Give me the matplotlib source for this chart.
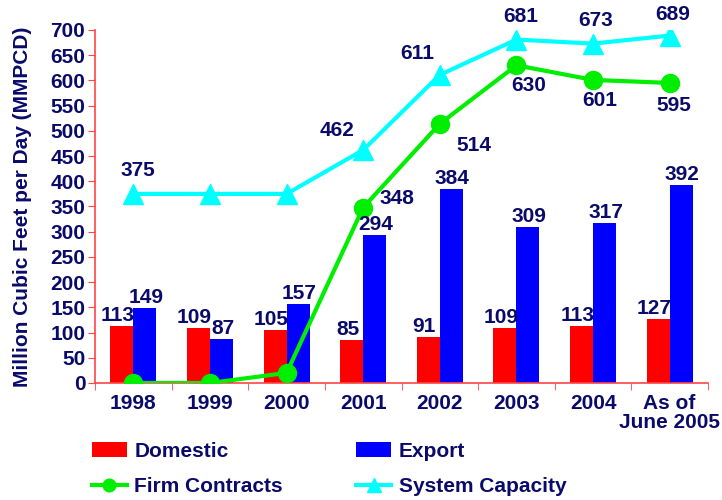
import matplotlib.pyplot as plt
import numpy as np

years = ["1998", "1999", "2000", "2001", "2002", "2003", "2004", "As of\nJune 2005"]
domestic = [113, 109, 105, 85, 91, 109, 113, 127]
export = [149, 87, 157, 294, 384, 309, 317, 392]
firm = [0, 0, 20, 348, 514, 630, 601, 595]
capacity = [375, 375, 375, 462, 611, 681, 673, 689]

navy = "#0a0a6b"
plt.rcParams["font.family"] = ["Liberation Sans", "DejaVu Sans"]
plt.rcParams["font.weight"] = "bold"
fs = 15

fig = plt.figure(figsize=(7.22, 5), dpi=100)
ax = fig.add_axes([0.1316, 0.234, 0.849, 0.706])

x = np.arange(len(years))
w = 0.3
b1 = ax.bar(x - w / 2, domestic, w, color="#ff0000", label="Domestic", zorder=2)
b2 = ax.bar(x + w / 2, export, w, color="#0000ff", label="Export", zorder=2)
l1, = ax.plot(x, firm, color="#00ee00", lw=3, marker="o", ms=13, label="Firm Contracts", zorder=3)
l2, = ax.plot(x, capacity, color="#00ffff", lw=3, marker="^", ms=15, label="System Capacity", zorder=3)

lab = dict(color=navy, fontsize=fs, fontweight="bold", textcoords="offset pixels")
for i in range(len(x)):
    ax.annotate(str(domestic[i]), (x[i] - w / 2, domestic[i]), xytext=(-4, 1),
                ha="center", va="bottom", **lab)
    ax.annotate(str(export[i]), (x[i] + w / 2, export[i]), xytext=(1, 1),
                ha="center", va="bottom", **lab)

# system capacity labels
cap_off = [(5, 14), None, None, (-26, 10), (-23, 12), (4, 14), (3, 14), (3, 12)]
for i, off in enumerate(cap_off):
    if off:
        ax.annotate(str(capacity[i]), (x[i], capacity[i]), xytext=off,
                    ha="center", va="bottom", **lab)

# firm contract labels
firm_off = [None, None, None, (34, 0), (34, -12), (12, -11), (7, -11), (4, -13)]
for i, off in enumerate(firm_off):
    if off:
        ax.annotate(str(firm[i]), (x[i], firm[i]), xytext=off,
                    ha="center", va="top" if off[1] < 0 else "bottom", **lab)

ax.set_xlim(-0.5, len(years) - 0.5)
ax.set_ylim(0, 700)
ax.set_yticks(np.arange(0, 701, 50))
ax.set_xticks(x)
ax.set_xticklabels(years, fontsize=fs, fontweight="bold", color=navy, linespacing=1.0)
ax.set_xticks(np.arange(-0.5, len(years)), minor=True)
ax.tick_params(axis="x", which="major", length=0, pad=8)
ax.tick_params(axis="x", which="minor", length=5, color="#ff4444", direction="out")
ax.tick_params(axis="y", length=5, color="#ff4444", labelsize=fs, labelcolor=navy, pad=2)
for t in ax.get_yticklabels():
    t.set_fontweight("bold")

for s in ["top", "right"]:
    ax.spines[s].set_visible(False)
ax.spines["left"].set_color("#ff4444")
ax.spines["bottom"].set_color("#ff4444")
ax.spines["left"].set_linewidth(1.2)
ax.spines["bottom"].set_linewidth(1.2)

ax.set_ylabel("Million Cubic Feet per Day (MMPCD)", fontsize=15, fontweight="bold",
              color=navy, labelpad=13)

leg = fig.legend([b1, l1, b2, l2],
                 ["Domestic", "Firm Contracts", "Export", "System Capacity"],
                 ncol=2, frameon=False, loc="upper left", bbox_to_anchor=(0.101, 0.154),
                 handlelength=1.7, handletextpad=0.35, columnspacing=3.5,
                 labelspacing=0.8, markerscale=0.7, prop={"size": fs, "weight": "bold"})
for t in leg.get_texts():
    t.set_color(navy)

fig.savefig("out.png", dpi=100)
